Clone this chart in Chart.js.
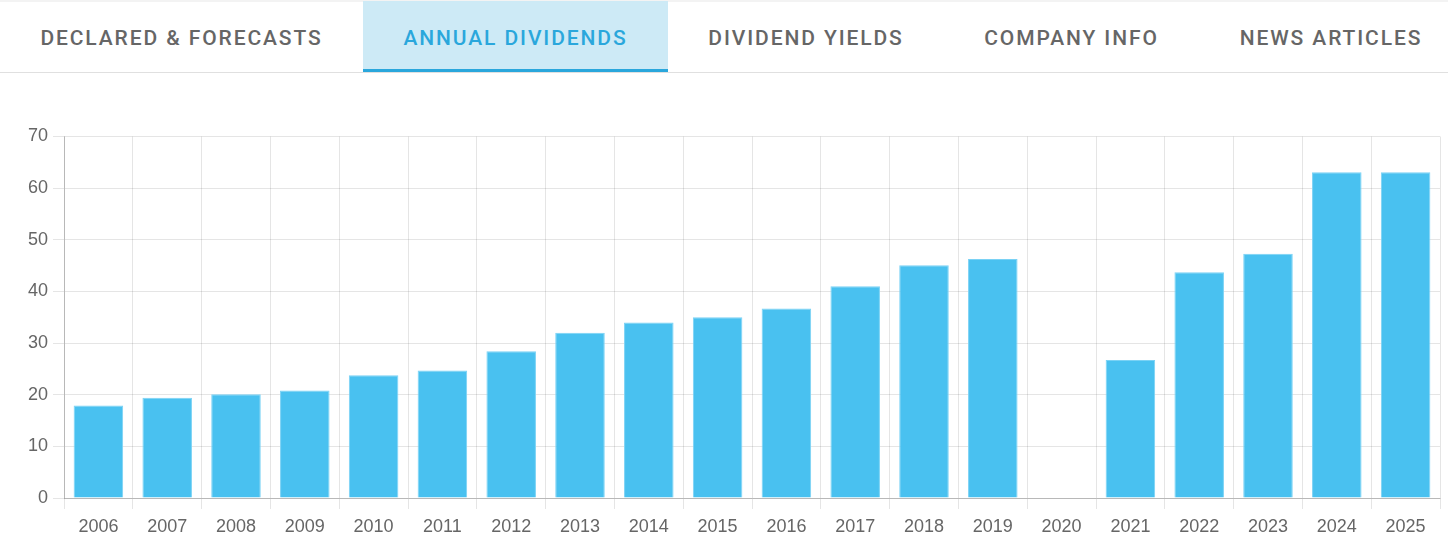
<!DOCTYPE html>
<html>
<head>
<meta charset="utf-8">
<script src="https://cdn.jsdelivr.net/npm/chart.js@4"></script>
<style>
  html, body { margin: 0; padding: 0; background: #fff; width: 1448px; height: 553px; overflow: hidden; }
  .topline { position: absolute; left: 0; top: 0; width: 1448px; height: 2px; background: #f3f3f3; }
  .tabs { position: absolute; left: 0; top: 0; width: 1448px; height: 73px; border-bottom: 1px solid #e0e0e0; box-sizing: border-box; }
  .tab { position: absolute; top: 1px; height: 71px; box-sizing: border-box; text-align: center;
         font-family: Roboto, "Noto Sans", sans-serif; font-weight: 500; font-size: 21px; letter-spacing: 1.9px;
         color: #666; line-height: 74px; white-space: nowrap; }
  .tab.active { background: #cdeaf6; color: #2aa7dc; border-bottom: 3px solid #2aa7dc; line-height: 74px; }
  #wrap { position: absolute; left: 0; top: 100px; width: 1448px; height: 453px; }
</style>
</head>
<body>
<div class="topline"></div>
<div class="tabs">
  <div class="tab" style="left:0;width:363px;">DECLARED &amp; FORECASTS</div>
  <div class="tab active" style="left:363px;width:305px;">ANNUAL DIVIDENDS</div>
  <div class="tab" style="left:668px;width:276px;">DIVIDEND YIELDS</div>
  <div class="tab" style="left:944px;width:255px;">COMPANY INFO</div>
  <div class="tab" style="left:1199px;width:264px;">NEWS ARTICLES</div>
</div>
<div id="wrap"><canvas id="c"></canvas></div>
<script>
const years = ["2006","2007","2008","2009","2010","2011","2012","2013","2014","2015","2016","2017","2018","2019","2020","2021","2022","2023","2024","2025"];
const dividends = [17.9, 19.4, 20.1, 20.8, 23.75, 24.7, 28.4, 32.0, 34.0, 35.0, 36.7, 41.0, 45.05, 46.3, 0, 26.7, 43.7, 47.3, 63.1, 63.1];
const yTicks = [0, 10, 20, 30, 40, 50, 60, 70];

const tickFont = { family: "'Liberation Sans', Arial, sans-serif", size: 18 };
new Chart(document.getElementById('c'), {
  type: 'bar',
  data: {
    labels: years,
    datasets: [{
      data: dividends,
      backgroundColor: '#49c1f0',
      borderColor: '#7ad2f5',
      borderWidth: 1
    }]
  },
  options: {
    responsive: true,
    maintainAspectRatio: false,
    animation: false,
    layout: { padding: { top: 36.5, right: 8, bottom: 0, left: 0 } },
    plugins: { legend: { display: false }, tooltip: { enabled: false } },
    scales: {
      x: {
        grid: { color: 'rgba(0,0,0,0.1)', tickLength: 11, offset: true },
        border: { color: 'rgba(0,0,0,0.2)' },
        ticks: { color: '#666', font: tickFont, padding: 7, maxRotation: 0 },
        afterFit: (s) => { s.height = 55; }
      },
      y: {
        min: 0, max: 70,
        afterBuildTicks: (s) => { s.ticks = yTicks.map(v => ({ value: v })); },
        grid: { color: 'rgba(0,0,0,0.1)', tickLength: 11 },
        border: { color: 'rgba(0,0,0,0.2)' },
        ticks: { color: '#666', font: tickFont, padding: 5 },
        afterFit: (s) => { s.width = 64; }
      }
    }
  }
});
</script>
</body>
</html>
